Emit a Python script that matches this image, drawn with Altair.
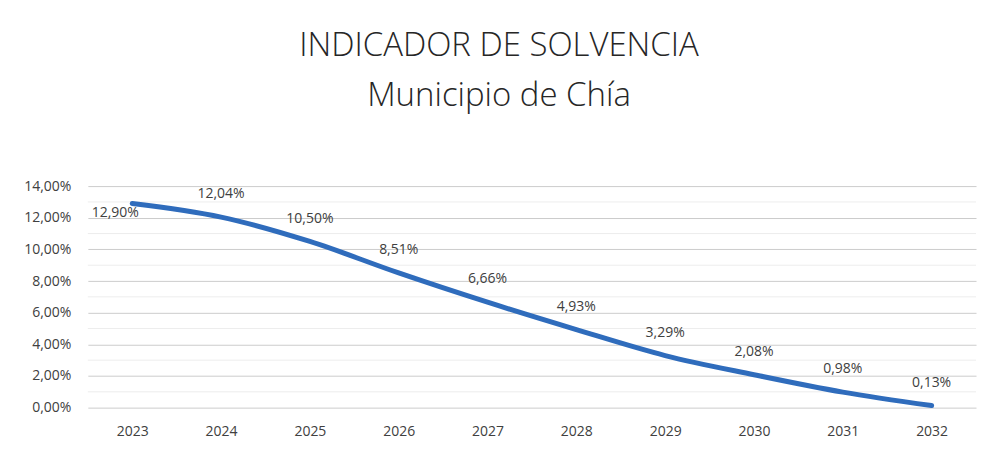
import altair as alt
import pandas as pd

years = ["2023", "2024", "2025", "2026", "2027", "2028", "2029", "2030", "2031", "2032"]
values = [0.1290, 0.1204, 0.1050, 0.0851, 0.0666, 0.0493, 0.0329, 0.0208, 0.0098, 0.0013]
y_ticks = [0, 0.02, 0.04, 0.06, 0.08, 0.10, 0.12, 0.14]
minor_ticks = [0.01, 0.03, 0.05, 0.07, 0.09, 0.11, 0.13]

df = pd.DataFrame({"year": years, "value": values})
df_minor = pd.DataFrame({"v": minor_ticks})

FONT = "Open Sans"
TXT = "#404040"

x_scale = alt.Scale(type="point", padding=0.5)
y_scale = alt.Scale(domain=[0, 0.14], nice=False)

x_axis = alt.Axis(title=None, labelAngle=0, domain=False, ticks=False,
                  labelFontSize=14, labelColor=TXT, labelFont=FONT, labelPadding=17,
                  grid=False)
y_axis = alt.Axis(title=None, values=y_ticks, domain=False, ticks=False,
                  labelOverlap=False, labelFlush=False,
                  labelExpr="replace(format(datum.value, '.2%'), '.', ',')",
                  labelFontSize=14, labelColor=TXT, labelFont=FONT, labelPadding=17,
                  gridColor="#cccccc", gridWidth=1)

minor = alt.Chart(df_minor).mark_rule(color="#ededed", strokeWidth=1).encode(
    y=alt.Y("v:Q", scale=y_scale, axis=y_axis)
)

line = alt.Chart(df).mark_line(color="#2F6CBC", strokeWidth=5, interpolate="monotone",
                               strokeCap="round").encode(
    x=alt.X("year:N", scale=x_scale, axis=x_axis),
    y=alt.Y("value:Q", scale=y_scale, axis=y_axis)
)

base_text = alt.Chart(df).transform_calculate(
    lab="replace(format(datum.value, '.2%'), '.', ',')"
)

labels_main = base_text.transform_filter(alt.datum.year != "2023").mark_text(
    dy=-23, fontSize=14, color=TXT, font=FONT
).encode(x=alt.X("year:N", scale=x_scale, axis=x_axis),
         y=alt.Y("value:Q", scale=y_scale, axis=y_axis), text="lab:N")

labels_first = base_text.transform_filter(alt.datum.year == "2023").mark_text(
    dx=-17, dy=10, fontSize=14, color=TXT, font=FONT
).encode(x=alt.X("year:N", scale=x_scale, axis=x_axis),
         y=alt.Y("value:Q", scale=y_scale, axis=y_axis), text="lab:N")

chart = alt.layer(minor, line, labels_main, labels_first).properties(
    width=890, height=222,
    title=alt.TitleParams(["INDICADOR DE SOLVENCIA", "Municipio de Chía"],
                          fontSize=33, font=FONT, fontWeight=300, color="#262626",
                          lineHeight=50, anchor="middle", offset=66, dx=-33),
    autosize=alt.AutoSizeParams(type="none"),
    padding={"left": 80, "top": 178, "right": 5, "bottom": 40},
    background="white",
).configure_view(stroke=None)

chart.save("out.html", embed_options={"renderer": "svg", "actions": False})
